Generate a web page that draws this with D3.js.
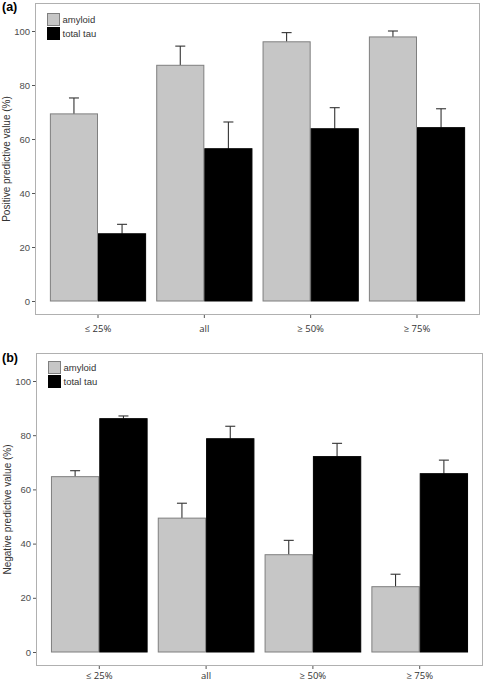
<!DOCTYPE html>
<html>
<head>
<meta charset="utf-8">
<script src="https://cdn.jsdelivr.net/npm/d3@7"></script>
<style>
  html, body { margin: 0; padding: 0; background: #fff; }
  svg { display: block; font-family: "Liberation Sans", Arial, sans-serif; }
</style>
</head>
<body>
<svg id="chart" width="485" height="683"></svg>
<script>
// ---- data ----
const categories = ["\u2264 25%", "all", "\u2265 50%", "\u2265 75%"];
const seriesNames = ["amyloid", "total tau"];
const seriesColors = ["#c6c6c6", "#000000"];

// Panel (a): positive predictive value
const ppvAmyloid = [69.3, 87.3, 96.0, 97.8];
const ppvAmyloidErr = [75.2, 94.4, 99.4, 100.0];
const ppvTau = [24.9, 56.4, 63.8, 64.2];
const ppvTauErr = [28.4, 66.3, 71.6, 71.2];

// Panel (b): negative predictive value
const npvAmyloid = [64.7, 49.4, 35.9, 24.1];
const npvAmyloidErr = [66.9, 54.9, 41.2, 28.7];
const npvTau = [86.1, 78.7, 72.1, 65.8];
const npvTauErr = [87.1, 83.3, 77.0, 70.8];

const yTicks = [0, 20, 40, 60, 80, 100];

const svg = d3.select("#chart");

function drawPanel(cfg) {
  const g = svg.append("g");
  const { left, right, top, bottom, y0, y100 } = cfg;

  const y = d3.scaleLinear().domain([0, 100]).range([y0, y100]);
  const x = d3.scaleBand().domain(categories).range([left, right])
    .paddingInner(0.095).paddingOuter(0.14);
  const xs = d3.scaleBand().domain(seriesNames).range([0, x.bandwidth()]).padding(0);

  // panel border
  g.append("rect")
    .attr("x", left + 0.5).attr("y", top + 0.5)
    .attr("width", right - left - 1).attr("height", bottom - top - 1)
    .attr("fill", "#fff").attr("stroke", "#b0b0b0").attr("stroke-width", 1);

  const rows = categories.map((c, i) => ({
    cat: c,
    vals: [
      { s: seriesNames[0], v: cfg.a[i], e: cfg.aErr[i], color: seriesColors[0] },
      { s: seriesNames[1], v: cfg.t[i], e: cfg.tErr[i], color: seriesColors[1] }
    ]
  }));

  const grp = g.selectAll("g.grp").data(rows).enter().append("g")
    .attr("transform", d => `translate(${x(d.cat)},0)`);

  // error bars (upper only), drawn behind bars
  grp.selectAll("line.err").data(d => d.vals).enter().append("line")
    .attr("x1", d => xs(d.s) + xs.bandwidth() / 2)
    .attr("x2", d => xs(d.s) + xs.bandwidth() / 2)
    .attr("y1", d => y(d.v)).attr("y2", d => y(d.e))
    .attr("stroke", "#333").attr("stroke-width", 1.1);
  grp.selectAll("line.cap").data(d => d.vals).enter().append("line")
    .attr("x1", d => xs(d.s) + xs.bandwidth() / 2 - 5)
    .attr("x2", d => xs(d.s) + xs.bandwidth() / 2 + 5)
    .attr("y1", d => y(d.e)).attr("y2", d => y(d.e))
    .attr("stroke", "#333").attr("stroke-width", 1.1);

  grp.selectAll("rect.bar").data(d => d.vals).enter().append("rect")
    .attr("x", d => xs(d.s) + 0.5)
    .attr("width", xs.bandwidth() - 1)
    .attr("y", d => y(d.v))
    .attr("height", d => y(0) - y(d.v))
    .attr("fill", d => d.color)
    .attr("stroke", d => d.s === "amyloid" ? "#7f7f7f" : "#000")
    .attr("stroke-width", 1);

  // y axis
  const yAxis = d3.axisLeft(y).tickValues(yTicks).tickSize(3).tickPadding(2);
  const ya = g.append("g").attr("transform", `translate(${left},0)`).call(yAxis);
  ya.select(".domain").remove();
  ya.selectAll(".tick line").attr("stroke", "#555");
  ya.selectAll(".tick text").attr("fill", "#4d4d4d")
    .style("font-size", "9.5px").style("font-family", "Liberation Sans, Arial, sans-serif");

  // x axis
  const xAxis = d3.axisBottom(x).tickSize(3).tickPadding(cfg.xPad);
  const xa = g.append("g").attr("transform", `translate(0,${bottom})`).call(xAxis);
  xa.select(".domain").remove();
  xa.selectAll(".tick line").attr("stroke", "#555");
  xa.selectAll(".tick text").attr("fill", "#333")
    .style("font-size", "9.5px").style("font-family", "'Open Sans', Arial, sans-serif");

  // y title
  g.append("text")
    .attr("transform", `translate(${cfg.titleX},${(top + bottom) / 2}) rotate(-90)`)
    .attr("text-anchor", "middle")
    .attr("fill", "#333")
    .style("font-size", "10px")
    .text(cfg.yTitle);

  // panel label
  g.append("text")
    .attr("x", 2).attr("y", cfg.labelY)
    .attr("fill", "#000").style("font-size", "12.5px").style("font-weight", "bold")
    .text(cfg.label);

  // legend
  const lg = g.append("g").attr("transform", `translate(${left + 12},${cfg.legendY})`);
  seriesNames.forEach((s, i) => {
    lg.append("rect").attr("x", 0.5).attr("y", i * 14 + 0.5)
      .attr("width", 12).attr("height", 12)
      .attr("fill", seriesColors[i]).attr("stroke", i === 0 ? "#7f7f7f" : "#000");
    lg.append("text").attr("x", 15.5).attr("y", i * 14 + 10)
      .attr("fill", "#333").style("font-size", "9.5px").text(s);
  });
}

drawPanel({
  left: 35, right: 480, top: 3, bottom: 315, y0: 301, y100: 31,
  a: ppvAmyloid, aErr: ppvAmyloidErr, t: ppvTau, tErr: ppvTauErr,
  yTitle: "Positive predictive value (%)", titleX: 10, label: "(a)", labelY: 11, legendY: 13, xPad: 7
});
drawPanel({
  left: 36, right: 483, top: 353, bottom: 666, y0: 652, y100: 381,
  a: npvAmyloid, aErr: npvAmyloidErr, t: npvTau, tErr: npvTauErr,
  yTitle: "Negative predictive value (%)", titleX: 11, label: "(b)", labelY: 362, legendY: 361, xPad: 3
});
</script>
</body>
</html>
